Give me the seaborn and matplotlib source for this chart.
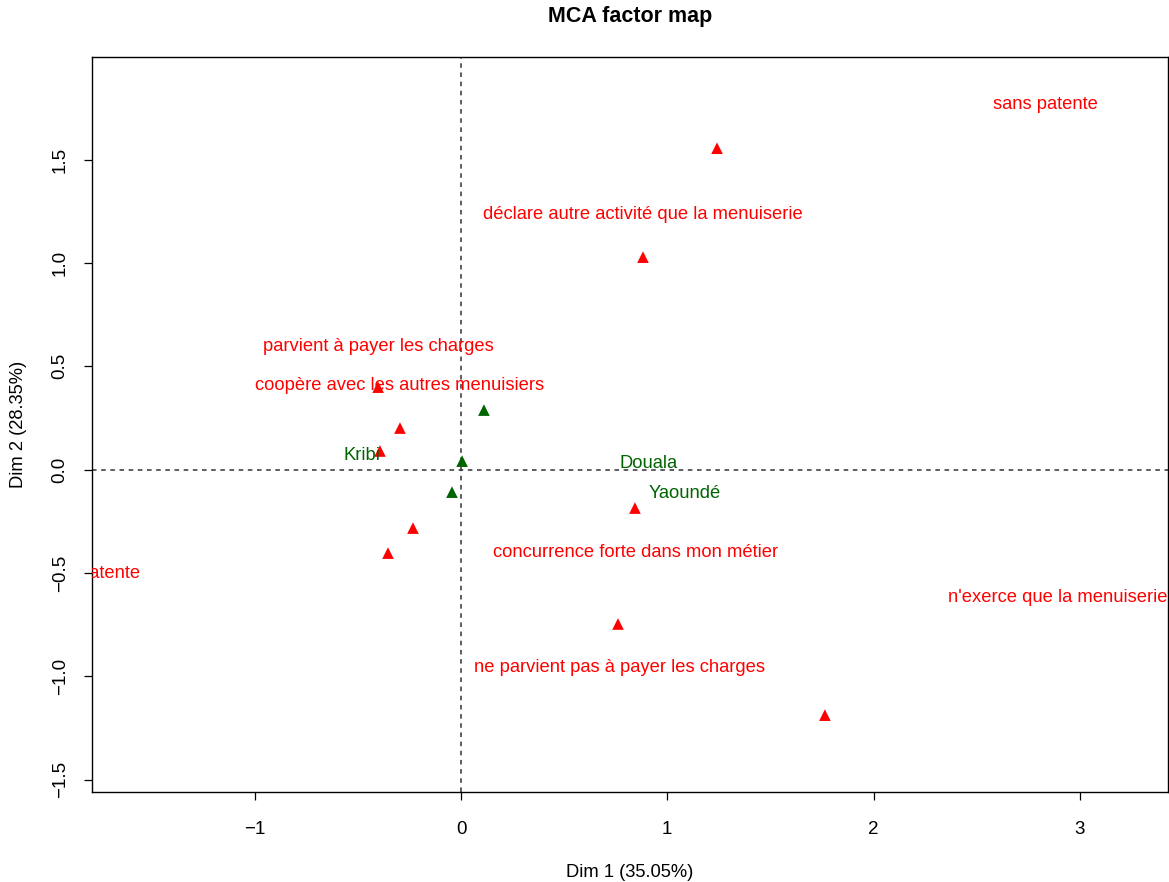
"""MCA factor map (recréation)."""

import matplotlib
matplotlib.use("Agg")
import matplotlib.pyplot as plt
import pandas as pd
import seaborn as sns

# coordonnées des modalités (triangles)
dim1_rouge = [1.241, 0.882, -0.402, -0.296, -0.393, -0.233, -0.354, 0.843, 0.761, 1.764]
dim2_rouge = [1.555, 1.028, 0.399, 0.201, 0.090, -0.283, -0.404, -0.186, -0.747, -1.188]
dim1_vert = [0.111, 0.005, -0.044]
dim2_vert = [0.288, 0.041, -0.109]

# étiquettes et leurs positions
labels_rouge = ["sans patente", "déclare autre activité que la menuiserie",
                "parvient à payer les charges", "coopère avec les autres menuisiers",
                "patente", "concurrence forte dans mon métier",
                "n'exerce que la menuiserie", "ne parvient pas à payer les charges"]
lab_x_rouge = [2.831, 0.882, -0.402, -0.296, -1.700, 0.848, 2.894, 0.766]
lab_y_rouge = [1.765, 1.233, 0.594, 0.406, -0.503, -0.402, -0.620, -0.958]
labels_vert = ["Kribi", "Douala", "Yaoundé"]
lab_x_vert = [-0.480, 0.911, 1.086]
lab_y_vert = [0.067, 0.028, -0.117]

df = pd.DataFrame({
    "Dim1": dim1_rouge + dim1_vert,
    "Dim2": dim2_rouge + dim2_vert,
    "groupe": ["var"] * len(dim1_rouge) + ["ville"] * len(dim1_vert),
})

sns.set_style("white")
plt.rcParams["font.family"] = ["Liberation Sans", "DejaVu Sans"]
plt.rcParams["text.color"] = "black"
plt.rcParams["axes.labelcolor"] = "black"

fig = plt.figure(figsize=(11.69, 8.82), dpi=100)
ax = fig.add_axes([0.0787, 0.1020, 0.9204, 0.8333])

ax.axhline(0, color="#333333", ls=(0, (3, 3)), lw=1.1, zorder=1)
ax.axvline(0, color="#333333", ls=(0, (3, 3)), lw=1.1, zorder=1)

sns.scatterplot(data=df, x="Dim1", y="Dim2", hue="groupe", marker="^", s=70,
                palette={"var": "#ff0000", "ville": "#006400"}, linewidth=0,
                legend=False, ax=ax, zorder=3)

for t, x, y in zip(labels_rouge, lab_x_rouge, lab_y_rouge):
    ax.text(x, y, t, color="#ff0000", fontsize=13.2, ha="center", va="center",
            clip_on=True, zorder=4)
for t, x, y in zip(labels_vert, lab_x_vert, lab_y_vert):
    ax.text(x, y, t, color="#006400", fontsize=13.2, ha="center", va="center",
            clip_on=True, zorder=4)

ax.set_xlim(-1.789, 3.427)
ax.set_ylim(-1.56, 1.996)
ax.set_xticks([-1, 0, 1, 2, 3])
ax.set_yticks([-1.5, -1.0, -0.5, 0.0, 0.5, 1.0, 1.5])
ax.set_yticklabels(["\u22121.5", "\u22121.0", "\u22120.5", "0.0", "0.5", "1.0", "1.5"],
                   rotation=90, va="center")
ax.set_xticklabels(["\u22121", "0", "1", "2", "3"])
ax.tick_params(axis="both", direction="out", length=5.8, width=0.9, labelsize=13.5,
               color="black", labelcolor="black", left=True, bottom=True)
ax.tick_params(axis="x", pad=15)
ax.tick_params(axis="y", pad=11)
for sp in ax.spines.values():
    sp.set_color("black")
    sp.set_linewidth(1.0)

ax.set_xlabel("Dim 1 (35.05%)", fontsize=13.2, labelpad=19)
ax.set_ylabel("Dim 2 (28.35%)", fontsize=13.2, labelpad=18)
ax.set_title("MCA factor map", fontsize=15.5, fontweight="bold", pad=25)

fig.savefig("out.png", dpi=100)
plt.close(fig)
